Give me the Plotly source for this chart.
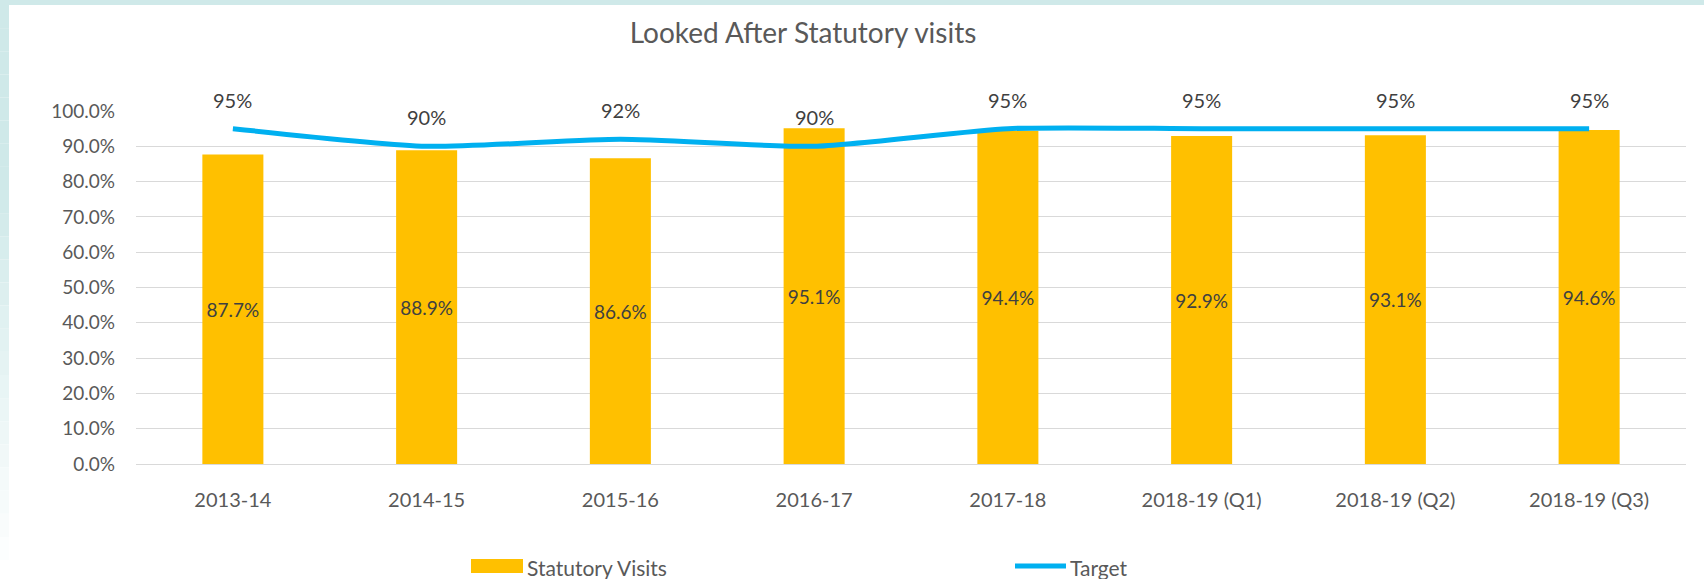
import plotly.graph_objects as go

categories = ["2013-14", "2014-15", "2015-16", "2016-17", "2017-18",
              "2018-19 (Q1)", "2018-19 (Q2)", "2018-19 (Q3)"]
statutory_visits = [0.877, 0.889, 0.866, 0.951, 0.944, 0.929, 0.931, 0.946]
target = [0.95, 0.90, 0.92, 0.90, 0.95, 0.95, 0.95, 0.95]
target_labels = ["95%", "90%", "92%", "90%", "95%", "95%", "95%", "95%"]
y_ticks = [i / 10 for i in range(11)]
series_names = ["Statutory Visits", "Target"]

W, H = 1704, 579
L, R, T, B = 136, 18, 111, 115
pw, ph = W - L - R, H - T - B

def px_x(p):
    return (p - L) / pw

def px_y(p):
    return (H - B - p) / ph

FONT = "Lato, 'Open Sans', sans-serif"
GREY = "#595959"
BAR_COLOR = "#ffc000"
LINE_COLOR = "#00b0f0"

fig = go.Figure()
fig.add_trace(go.Bar(
    x=categories, y=statutory_visits, name=series_names[0],
    marker=dict(color=BAR_COLOR, line=dict(width=0)),
    width=0.315, showlegend=False,
    text=[f"{v*100:.1f}%" for v in statutory_visits],
    textposition="inside", insidetextanchor="middle",
    textfont=dict(family=FONT, size=19, color="#404040"),
    textangle=0, cliponaxis=False,
))
fig.add_trace(go.Scatter(
    x=categories, y=target, name=series_names[1], mode="lines", showlegend=False,
    line=dict(color=LINE_COLOR, width=5, shape="spline", smoothing=0.6),
))

for c, v, t in zip(categories, target, target_labels):
    fig.add_annotation(x=c, y=v, text=t, showarrow=False, yshift=29,
                       font=dict(family=FONT, size=20, color="#404040"))

shapes = []
shapes.append(dict(type="rect", xref="paper", yref="paper",
                   x0=px_x(0), x1=px_x(W), y0=px_y(5), y1=px_y(0),
                   fillcolor="#cfe9e9", line=dict(width=0), layer="below"))
# left strip fading downward
n = 24
c0 = (207, 233, 233)
for i in range(n):
    y0 = 5 + i * (560 - 5) / n
    y1 = 5 + (i + 1) * (560 - 5) / n
    f = max(0.0, (i / n - 0.3) / 0.7) if i / n > 0.3 else 0.0
    col = tuple(int(round(c + (255 - c) * f)) for c in c0)
    shapes.append(dict(type="rect", xref="paper", yref="paper",
                       x0=px_x(0), x1=px_x(9), y0=px_y(y1), y1=px_y(y0),
                       fillcolor="rgb(%d,%d,%d)" % col, line=dict(width=0),
                       layer="below"))

# legend (drawn like the original: wide swatch and long line key)
LEG_Y = 566
shapes.append(dict(type="rect", xref="paper", yref="paper",
                   x0=px_x(471), x1=px_x(523), y0=px_y(LEG_Y + 7), y1=px_y(LEG_Y - 7),
                   fillcolor=BAR_COLOR, line=dict(width=0)))
shapes.append(dict(type="line", xref="paper", yref="paper",
                   x0=px_x(1015), x1=px_x(1066), y0=px_y(LEG_Y), y1=px_y(LEG_Y),
                   line=dict(color=LINE_COLOR, width=5)))
fig.add_annotation(xref="paper", yref="paper", x=px_x(525), y=px_y(LEG_Y + 1),
                   xanchor="left", yanchor="middle", text=series_names[0],
                   showarrow=False, font=dict(family=FONT, size=21, color=GREY))
fig.add_annotation(xref="paper", yref="paper", x=px_x(1068), y=px_y(LEG_Y + 1),
                   xanchor="left", yanchor="middle", text=series_names[1],
                   showarrow=False, font=dict(family=FONT, size=21, color=GREY))

fig.update_layout(
    width=W, height=H,
    margin=dict(l=L, r=R, t=T, b=B, autoexpand=False),
    paper_bgcolor="white", plot_bgcolor="white",
    shapes=shapes,
    title=dict(text="Looked After Statutory visits", x=803 / W, xref="container",
               xanchor="center", y=1 - 33 / H, yanchor="middle",
               font=dict(family=FONT, size=28, color=GREY)),
    font=dict(family=FONT, color=GREY),
    showlegend=False,
    bargap=0.685,
)
fig.update_xaxes(showgrid=False, showline=True, linecolor="#d9d9d9", linewidth=1,
                 ticks="", tickfont=dict(family=FONT, size=20, color=GREY),
                 ticklabelstandoff=18)
fig.update_yaxes(range=[0, 1.0], tickvals=y_ticks, tickformat=".1%",
                 showgrid=True, gridcolor="#d9d9d9", gridwidth=1,
                 zeroline=False, showline=False, ticks="",
                 tickfont=dict(family=FONT, size=19, color=GREY),
                 ticklabelstandoff=20)

fig.write_html("out.html", config={"displayModeBar": False},
               post_script="document.body.style.margin='0';document.body.style.overflow='hidden';")
